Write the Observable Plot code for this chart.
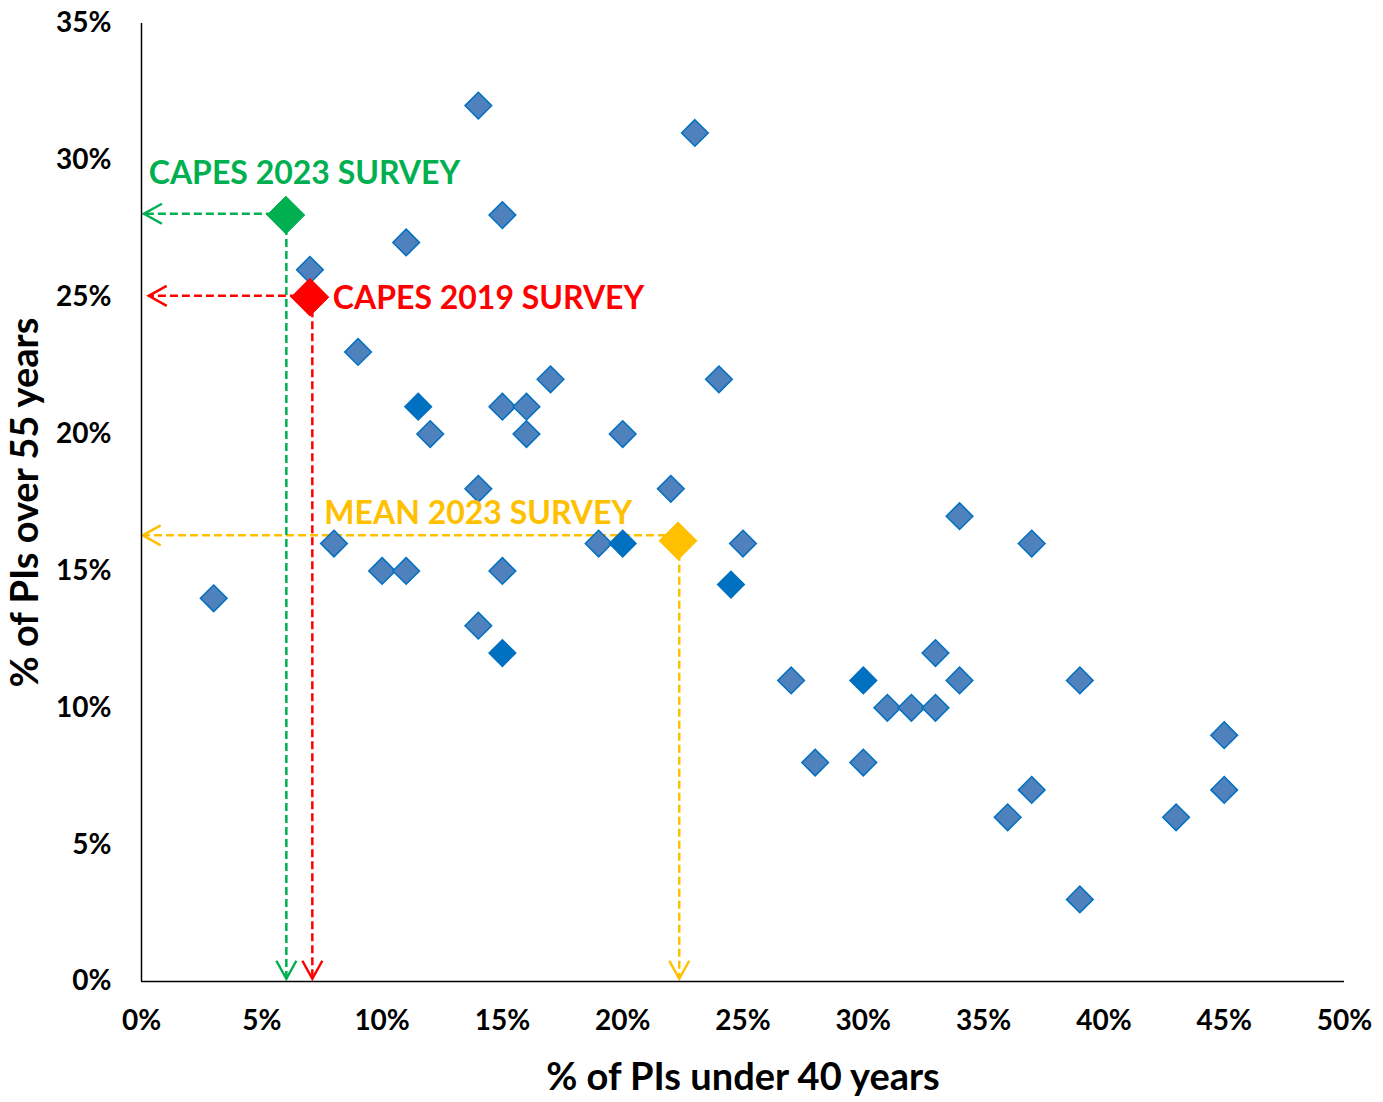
<!DOCTYPE html>
<html>
<head>
<meta charset="utf-8">
<script src="https://cdn.jsdelivr.net/npm/d3@7"></script>
<script src="https://cdn.jsdelivr.net/npm/@observablehq/plot@0.6"></script>
<style>
  html, body { margin: 0; padding: 0; background: #fff; }
  #chart svg { display: block; }
  #chart svg g[aria-label="x-axis tick label"] text,
  #chart svg g[aria-label="y-axis tick label"] text { font-weight: bold; }
</style>
</head>
<body>
<div id="chart"></div>
<script>
// ---- data ----
const xTicks = [0, 5, 10, 15, 20, 25, 30, 35, 40, 45, 50];
const yTicks = [0, 5, 10, 15, 20, 25, 30, 35];

// % of PIs under 40 years / over 55 years (one per program); count 2 = overlapping points
const under40 = [3, 7, 9, 8, 10, 11, 11, 11.5, 12, 14, 14, 14, 15, 15, 15, 15, 16, 16, 17, 19, 20, 20, 22, 23, 24, 24.5, 25, 27, 28, 30, 30, 31, 32, 33, 33, 34, 34, 36, 37, 37, 39, 39, 43, 45, 45];
const over55  = [14, 26, 23, 16, 15, 15, 27, 21, 20, 32, 18, 13, 28, 21, 15, 12, 21, 20, 22, 16, 16, 20, 18, 31, 22, 14.5, 16, 11, 8, 11, 8, 10, 10, 12, 10, 17, 11, 6, 16, 7, 11, 3, 6, 9, 7];
const overlapCount = [1, 1, 1, 1, 1, 1, 1, 2, 1, 1, 1, 1, 1, 1, 1, 2, 1, 1, 1, 1, 2, 1, 1, 1, 1, 2, 1, 1, 1, 2, 1, 1, 1, 1, 1, 1, 1, 1, 1, 1, 1, 1, 1, 1, 1];

// highlighted surveys
const surveyNames  = ["CAPES 2023 SURVEY", "CAPES 2019 SURVEY", "MEAN 2023 SURVEY"];
const surveyX      = [6, 7, 22.3];
const surveyY      = [28, 25, 16.1];
const surveyColors = ["#00B050", "#FF0000", "#FFC000"];
// guide lines: horizontal to y-axis, vertical to x-axis
const hGuideY   = [28.05, 25.05, 16.3];
const hGuideTip = [0.1, 0.3, 0.05];
const vGuideX   = [6.02, 7.1, 22.35];
const vGuideTip = [0.1, 0.1, 0.1];
// label anchor positions (left edge, vertical middle)
const labelX = [0.3, 7.95, 7.6];
const labelY = [29.5, 24.95, 17.1];

// ---- build tables ----
const points = under40.map((x, i) => ({x, y: over55[i], n: overlapCount[i]}));
const surveys = surveyNames.map((name, i) => ({
  name, x: surveyX[i], y: surveyY[i], color: surveyColors[i],
  hy: hGuideY[i], htip: hGuideTip[i], vx: vGuideX[i], vtip: vGuideTip[i],
  lx: labelX[i], ly: labelY[i]
}));

const chevron = {
  draw(context) {
    context.moveTo(-18, -10);
    context.lineTo(0, 0);
    context.lineTo(-18, 10);
  }
};

const font = "Lato, 'Open Sans', sans-serif";

const plot = Plot.plot({
  width: 1383,
  height: 1102,
  marginLeft: 141,
  marginRight: 39,
  marginTop: 23,
  marginBottom: 121,
  style: { fontFamily: font, fontSize: "28px", color: "#000", background: "#fff" },
  x: { domain: [0, 50] },
  y: { domain: [0, 35] },
  marks: [
    Plot.axisX({ ticks: xTicks, tickFormat: d => d + "%", tickSize: 0, tickPadding: 29, label: null, fontSize: 28 }),
    Plot.axisY({ ticks: yTicks, tickFormat: d => d + "%", tickSize: 0, tickPadding: 30, label: null, fontSize: 28 }),
    // guide lines (dashed)
    Plot.link(surveys, { x1: "x", y1: "hy", x2: "htip", y2: "hy", stroke: d => d.color, strokeWidth: 2.5, strokeDasharray: "8,4" }),
    Plot.link(surveys, { x1: "vx", y1: "y", x2: "vx", y2: "vtip", stroke: d => d.color, strokeWidth: 2.5, strokeDasharray: "8,4" }),
    // arrowheads
    Plot.dot(surveys, { x: "htip", y: "hy", symbol: chevron, rotate: 180, fill: "none", stroke: d => d.color, strokeWidth: 2.5 }),
    Plot.dot(surveys, { x: "vx", y: "vtip", symbol: chevron, rotate: 90, fill: "none", stroke: d => d.color, strokeWidth: 2.5 }),
    // axis lines
    Plot.ruleX([0], { stroke: "#000", strokeWidth: 1.5 }),
    Plot.ruleY([0], { stroke: "#000", strokeWidth: 1.5 }),
    // program points
    Plot.dot(points, { x: "x", y: "y", symbol: "diamond2", r: 12, fill: d => d.n > 1 ? "#0070C0" : "#4F81BD", stroke: "#0070C0", strokeWidth: 1.5 }),
    // highlighted surveys
    Plot.dot(surveys, { x: "x", y: "y", symbol: "diamond2", r: 17, fill: d => d.color, stroke: d => d.color, strokeWidth: 1 }),
    Plot.text(surveys, { x: "lx", y: "ly", text: "name", fill: d => d.color, textAnchor: "start", lineAnchor: "middle", fontSize: 32, fontWeight: "bold" }),
    // axis titles
    Plot.text(["% of PIs under 40 years"], { frameAnchor: "bottom", dy: 96, fontSize: 38, fontWeight: "bold", fill: "#000", lineAnchor: "middle" }),
    Plot.text(["% of PIs over 55 years"], { frameAnchor: "left", dx: -116, rotate: -90, textAnchor: "middle", lineAnchor: "middle", fontSize: 38, fontWeight: "bold", fill: "#000" })
  ]
});

document.getElementById("chart").appendChild(plot);
</script>
</body>
</html>
